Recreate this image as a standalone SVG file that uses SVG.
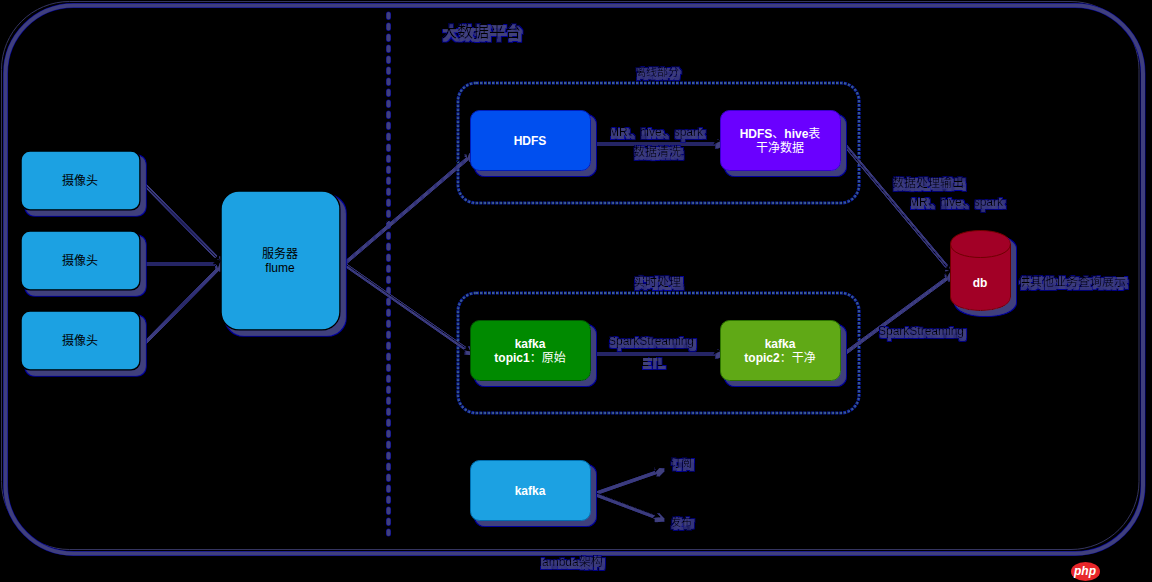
<svg xmlns="http://www.w3.org/2000/svg" width="1152" height="582" viewBox="0 0 1152 582">
<style>
text{font-family:"Liberation Sans","Noto Sans CJK SC",sans-serif;font-size:12px;text-anchor:middle;fill:#000}
.lbl{filter:url(#ts)}
.w{fill:#fff;font-weight:bold}
.c{font-weight:normal}
.cam{fill:#1ba1e2;stroke:#000;stroke-width:1.5;filter:url(#sh)}
.ln{fill:none;stroke:#000;stroke-width:1;filter:url(#lsh)}
.dotb{fill:none;stroke:#0a1fa8;stroke-width:3.2;stroke-dasharray:3 1}
.dott{fill:none;stroke:#3f5f88;stroke-width:1.8;stroke-dasharray:2 2}
</style>
<defs>
<filter id="sh" x="0" y="0" width="1152" height="582" filterUnits="userSpaceOnUse">
<feOffset in="SourceAlpha" dx="5" dy="5" result="o"/>
<feMorphology in="o" operator="dilate" radius="0.5" result="edge"/>
<feFlood flood-color="#00009a"/><feComposite in2="edge" operator="in" result="e"/>
<feFlood flood-color="#3f3f7c"/><feComposite in2="o" operator="in" result="f"/>
<feMerge><feMergeNode in="e"/><feMergeNode in="f"/><feMergeNode in="SourceGraphic"/></feMerge>
</filter>
<filter id="lsh" x="0" y="0" width="1152" height="582" filterUnits="userSpaceOnUse">
<feMorphology in="SourceAlpha" operator="dilate" radius="1.2" result="d"/>
<feOffset in="d" dx="3" dy="3" result="o"/>
<feMorphology in="o" operator="dilate" radius="0.3" result="edge"/>
<feFlood flood-color="#00009a"/><feComposite in2="edge" operator="in" result="e"/>
<feFlood flood-color="#3f3f7c"/><feComposite in2="o" operator="in" result="f"/>
<feMerge><feMergeNode in="e"/><feMergeNode in="f"/><feMergeNode in="SourceGraphic"/></feMerge>
</filter>
<filter id="ts" x="0" y="0" width="1152" height="582" filterUnits="userSpaceOnUse">
<feMorphology in="SourceAlpha" operator="dilate" radius="1" result="d"/>
<feOffset in="d" dx="2" dy="2" result="o"/>
<feMorphology in="o" operator="dilate" radius="0.5" result="edge"/>
<feFlood flood-color="#00009a"/><feComposite in2="edge" operator="in" result="e"/>
<feFlood flood-color="#3f3f7c"/><feComposite in2="o" operator="in" result="f"/>
<feMerge><feMergeNode in="e"/><feMergeNode in="f"/><feMergeNode in="SourceGraphic"/></feMerge>
</filter>
<marker id="ah" viewBox="0 0 8 8" refX="7" refY="4" markerWidth="8" markerHeight="8" markerUnits="userSpaceOnUse" orient="auto">
<path d="M0 0L8 4L0 8L2 4Z" fill="#000"/>
</marker>
</defs>
<rect width="1152" height="582" fill="#000"/>

<g id="frame">
<rect x="1.500" y="1.500" width="1137.500" height="548" rx="68" fill="none" stroke="#34345f" stroke-width="1"/>
<rect x="5.500" y="5.500" width="1137.500" height="548" rx="68" fill="none" stroke="#00009a" stroke-width="5"/>
<rect x="5.500" y="5.500" width="1137.500" height="548" rx="68" fill="none" stroke="#3f3f7c" stroke-width="4"/>
</g>

<g id="divider" fill="none" stroke-linecap="round">
<line x1="388.500" y1="14" x2="388.500" y2="534" stroke="#00009a" stroke-width="5" stroke-dasharray="3.500 7.500"/>
<line x1="388.500" y1="14" x2="388.500" y2="534" stroke="#3f3f7c" stroke-width="4" stroke-dasharray="3.500 7.500"/>
</g>

<g id="batch-box"><rect class="dotb" x="458" y="83" width="401" height="120" rx="18"/><rect class="dott" x="458" y="83" width="401" height="120" rx="18"/></g>
<g id="stream-box"><rect class="dotb" x="458" y="293" width="401" height="120" rx="18"/><rect class="dott" x="458" y="293" width="401" height="120" rx="18"/></g>

<g id="connectors">
<path class="ln" marker-end="url(#ah)" d="M141 181L220 261"/>
<path class="ln" marker-end="url(#ah)" d="M141 261L220 261"/>
<path class="ln" marker-end="url(#ah)" d="M141 341L220 261"/>
<path class="ln" marker-end="url(#ah)" d="M341 261L470 151"/>
<path class="ln" marker-end="url(#ah)" d="M341 261L470 351"/>
<path class="ln" marker-end="url(#ah)" d="M591 141L720 141"/>
<path class="ln" marker-end="url(#ah)" d="M591 351L720 351"/>
<path class="ln" marker-end="url(#ah)" d="M841 141L950 271"/>
<path class="ln" marker-end="url(#ah)" d="M841 351L950 271"/>
<path class="ln" marker-end="url(#ah)" d="M591 491L660 467"/>
<path class="ln" marker-end="url(#ah)" d="M591 491L660 517"/>
</g>

<g id="cam1"><rect class="cam" x="21" y="151" width="119" height="59" rx="9"/><text x="80" y="185">摄像头</text></g>
<g id="cam2"><rect class="cam" x="21" y="231" width="119" height="59" rx="9"/><text x="80" y="265">摄像头</text></g>
<g id="cam3"><rect class="cam" x="21" y="311" width="119" height="59" rx="9"/><text x="80" y="345">摄像头</text></g>
<g id="server"><rect class="cam" x="221" y="191" width="119" height="139" rx="18"/><text x="280" y="258">服务器</text><text x="280" y="272">flume</text></g>

<g id="hdfs"><rect x="470.500" y="110.500" width="120" height="60" rx="9" fill="#0050ef" stroke="#001dbc" filter="url(#sh)"/><text class="w" x="530" y="145">HDFS</text></g>
<g id="hdfs-hive"><rect x="720.500" y="110.500" width="120" height="60" rx="9" fill="#6a00ff" stroke="#3700cc" filter="url(#sh)"/><text class="w" x="780" y="138">HDFS<tspan class="c">、</tspan>hive<tspan class="c">表</tspan></text><text class="w c" x="780" y="152">干净数据</text></g>
<g id="kafka1"><rect x="470.500" y="320.500" width="120" height="60" rx="9" fill="#008a00" stroke="#005700" filter="url(#sh)"/><text class="w" x="530" y="348">kafka</text><text class="w" x="530" y="362">topic1<tspan class="c">：原始</tspan></text></g>
<g id="kafka2"><rect x="720.500" y="320.500" width="120" height="60" rx="9" fill="#60a917" stroke="#2d7600" filter="url(#sh)"/><text class="w" x="780" y="348">kafka</text><text class="w" x="780" y="362">topic2<tspan class="c">：干净</tspan></text></g>
<g id="kafka3"><rect x="470.500" y="460.500" width="120" height="60" rx="9" fill="#1ba1e2" stroke="#006eaf" filter="url(#sh)"/><text class="w" x="530" y="495">kafka</text></g>
<g id="db">
<path d="M950.500 244C950.500 226 1010.500 226 1010.500 244V297C1010.500 315 950.500 315 950.500 297Z" fill="#a20025" stroke="#6f0000" filter="url(#sh)"/>
<path d="M950.500 244C950.500 262 1010.500 262 1010.500 244" fill="none" stroke="#6f0000"/>
<text class="w" x="980" y="287">db</text>
</g>

<g id="labels">
<text class="lbl" x="481" y="37" style="font-size:16px">大数据平台</text>
<text class="lbl" x="657" y="76" style="font-size:11px">离线部分</text>
<text class="lbl" x="656" y="136">MR、hive、spark</text>
<text class="lbl" x="657" y="156">数据清洗</text>
<text class="lbl" x="928" y="187">数据处理输出</text>
<text class="lbl" x="956" y="206">MR、hive、spark</text>
<text class="lbl" x="657" y="286">实时处理</text>
<text class="lbl" x="651" y="345">SparkStreaming</text>
<text class="lbl" x="652" y="366">ETL</text>
<text class="lbl" x="921" y="335">SparkStreaming</text>
<text class="lbl" x="1072" y="286">供其他业务查询展示</text>
<text class="lbl" x="681" y="467" style="font-size:11px">订阅</text>
<text class="lbl" x="681" y="526" style="font-size:11px">发布</text>
<text class="lbl" x="571" y="566">lambda架构</text>
</g>

<g id="php-badge">
<ellipse cx="1085.500" cy="571.500" rx="14.500" ry="9.500" fill="#e8262a"/>
<text x="1085" y="575" style="font-size:12px;font-style:italic;font-weight:bold;fill:#fff">php</text>
</g>
</svg>
